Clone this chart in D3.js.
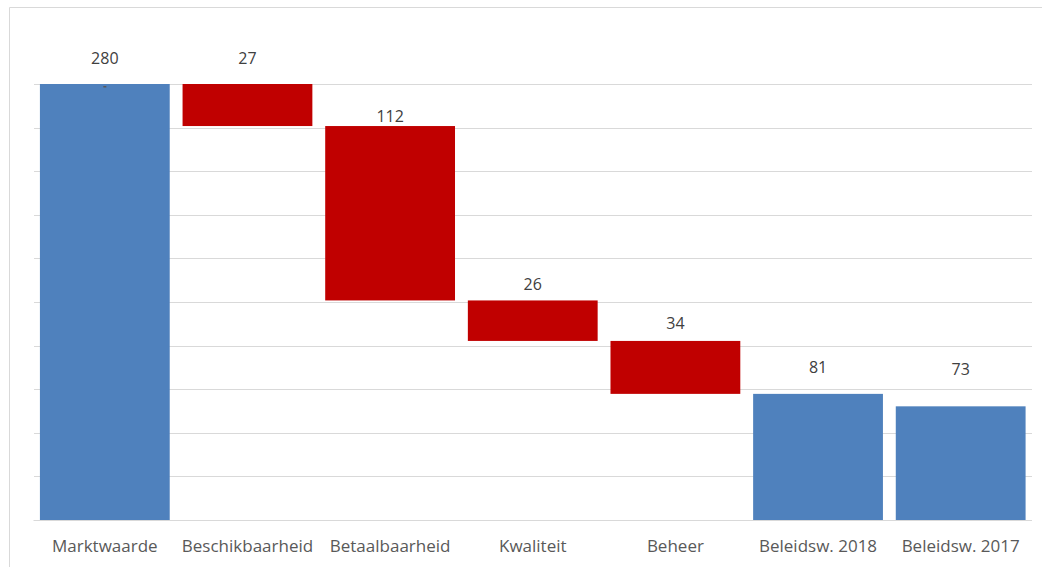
<!DOCTYPE html>
<html>
<head>
<meta charset="utf-8">
<script src="https://cdn.jsdelivr.net/npm/d3@7"></script>
<style>
html,body{margin:0;padding:0;background:#fff;}
svg{display:block;}
</style>
</head>
<body>
<svg id="chart" width="1042" height="567"></svg>
<script>
// ---- data ----
const categories = ["Marktwaarde","Beschikbaarheid","Betaalbaarheid","Kwaliteit","Beheer","Beleidsw. 2018","Beleidsw. 2017"];
const values     = [280, 27, 112, 26, 34, 81, 73];
const barType    = ["total","decrease","decrease","decrease","decrease","total","total"];
// hidden label-series positions (data units)
const labelAnchor = [296.7, 296.7, 259.5, 151, 126.5, 98.3, 97];
const yTicks = [0, 28, 56, 84, 112, 140, 168, 196, 224, 252, 280];

// ---- build waterfall segments ----
let running = 0;
const segs = categories.map((c, i) => {
  let y0, y1;
  if (barType[i] === "total") { y0 = 0; y1 = values[i]; running = values[i]; }
  else { y1 = running; y0 = running - values[i]; running = y0; }
  return {cat: c, v: values[i], y0, y1, type: barType[i], lab: labelAnchor[i]};
});

const svg = d3.select("#chart");
const W = 1042, H = 567;
const x = d3.scaleBand().domain(categories).range([33.5, 1032]).paddingInner(0.09).paddingOuter(0.045);
const y = d3.scaleLinear().domain([0, 280]).range([520, 84]);

// chart frame
svg.append("path").attr("d", `M9.5,${H} V7.5 H${W}`).attr("fill","none").attr("stroke","#d9d9d9").attr("stroke-width",1);

// gridlines
svg.append("g").attr("class","grid")
  .attr("transform","translate(33.5,0)")
  .call(d3.axisLeft(y).tickValues(yTicks).tickSize(-(1032-33.5)).tickFormat(""))
  .call(g => g.select(".domain").remove())
  .call(g => g.selectAll("line").attr("stroke","#d9d9d9").attr("stroke-width",1)
      .attr("shape-rendering","crispEdges"));

// bars
svg.append("g").selectAll("rect").data(segs).join("rect")
  .attr("x", d => x(d.cat))
  .attr("width", x.bandwidth())
  .attr("y", d => y(d.y1))
  .attr("height", d => y(d.y0) - y(d.y1))
  .attr("fill", d => d.type === "total" ? "#4f81bd" : "#c00000");

// small marker on first bar (from source chart)
svg.append("rect")
  .attr("x", x(categories[0]) + x.bandwidth()/2 - 1.5)
  .attr("y", y(values[0]) + 2)
  .attr("width", 3).attr("height", 1.5)
  .attr("fill", "#595959");

// value labels
svg.append("g").selectAll("text").data(segs).join("text")
  .attr("x", d => x(d.cat) + x.bandwidth()/2)
  .attr("y", d => y(d.lab))
  .attr("dy", "0.35em")
  .attr("text-anchor","middle")
  .attr("font-family","'Open Sans', Lato, sans-serif")
  .attr("font-size", 16)
  .attr("fill","#404040")
  .text(d => d.v);

// x axis
const xa = svg.append("g").attr("transform","translate(0,520)")
  .call(d3.axisBottom(x).tickSize(0).tickPadding(20));
xa.select(".domain").attr("stroke","#d9d9d9").attr("d", `M33.5,0.5H1032`);
xa.selectAll("text")
  .attr("font-family","'Open Sans', Lato, sans-serif")
  .attr("font-size", 17)
  .attr("fill","#595959");
</script>
</body>
</html>
